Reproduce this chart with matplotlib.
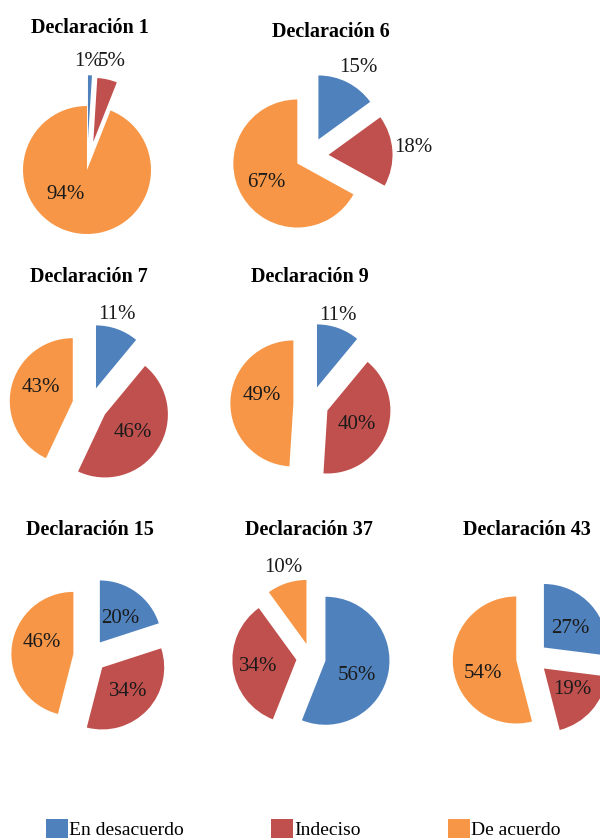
import matplotlib
matplotlib.use("Agg")
import matplotlib.pyplot as plt
from matplotlib.patches import Patch

# ---------------- data ----------------
titles = ["Declaración 1", "Declaración 6", "Declaración 7", "Declaración 9",
          "Declaración 15", "Declaración 37", "Declaración 43"]
categories = ["En desacuerdo", "Indeciso", "De acuerdo"]
en_desacuerdo = [1, 15, 11, 11, 20, 56, 27]
indeciso = [5, 18, 46, 40, 34, 34, 19]
de_acuerdo = [94, 67, 43, 49, 46, 10, 54]

# ---------------- style / layout ----------------
colors = ["#4F81BD", "#C0504D", "#F79646"]
W, H = 600, 839
# pie centre (px), radius (px), explode per slice
layout = [
    dict(c=(87, 170), r=64, ex=[0.48, 0.45, 0.0]),
    dict(c=(310, 156), r=64, ex=[0.29, 0.29, 0.23]),
    dict(c=(90, 405), r=63, ex=[0.28, 0.28, 0.28]),
    dict(c=(311, 404), r=63, ex=[0.28, 0.28, 0.28]),
    dict(c=(90, 656), r=62, ex=[0.27, 0.27, 0.27]),
    dict(c=(311, 658), r=64, ex=[0.23, 0.23, 0.23]),
    dict(c=(532, 658), r=63.5, ex=[0.25, 0.25, 0.25]),
]
# label positions in units of radius relative to pie centre
label_pos = [
    [(0.02, 1.70), (0.39, 1.69), (-0.34, -0.39)],
    [(0.75, 1.39), (1.61, 0.125), (-0.69, -0.41)],
    [(0.43, 1.43), (0.68, -0.44), (-0.78, 0.27)],
    [(0.43, 1.41), (0.73, -0.33), (-0.78, 0.14)],
    [(0.48, 0.61), (0.61, -0.58), (-0.77, 0.21)],
    [(0.72, -0.28), (-0.83, -0.14), (-0.44, 1.42)],
    [(0.60, 0.47), (0.63, -0.50), (-0.77, -0.25)],
]
title_pos = [(90, 28), (331, 32), (89, 277), (310, 277), (90, 530), (309, 530), (527, 530)]

fig = plt.figure(figsize=(W / 100, H / 100), dpi=100)
fig.patch.set_facecolor("white")

L = 2.0
serif = ["Liberation Serif", "DejaVu Serif"]
for i, t in enumerate(titles):
    vals = [en_desacuerdo[i], indeciso[i], de_acuerdo[i]]
    lay = layout[i]
    cx, cy = lay["c"]
    s = L * lay["r"]
    ax = fig.add_axes([(cx - s) / W, 1 - (cy + s) / H, 2 * s / W, 2 * s / H])
    ax.axis("off")
    ax.patch.set_alpha(0)
    ax.pie(vals, colors=colors, startangle=90, counterclock=False,
           explode=lay["ex"], radius=1.0, wedgeprops=dict(linewidth=0),
           frame=False)
    ax.set_xlim(-L, L)
    ax.set_ylim(-L, L)
    ax.set_aspect("equal")
    for v, (lx, ly) in zip(vals, label_pos[i]):
        ax.text(lx, ly, f"{v}%", ha="center", va="center", fontsize=15,
                family=serif, color="#1a1a1a")
    tx, ty = title_pos[i]
    fig.text(tx / W, 1 - ty / H, t, ha="center", va="center", fontsize=14.5,
             fontweight="bold", family=serif, color="black")

handles = [Patch(facecolor=c, edgecolor="none") for c in colors]
leg = fig.legend(handles, categories, loc="center left",
                 bbox_to_anchor=(46 / W, 1 - 829 / H), ncol=3, frameon=False,
                 prop=dict(family=serif, size=14), handlelength=1.13,
                 handleheight=1.13, handletextpad=0.05, columnspacing=4.5,
                 borderpad=0, borderaxespad=0)

fig.savefig("out.png", dpi=100, facecolor="white")
